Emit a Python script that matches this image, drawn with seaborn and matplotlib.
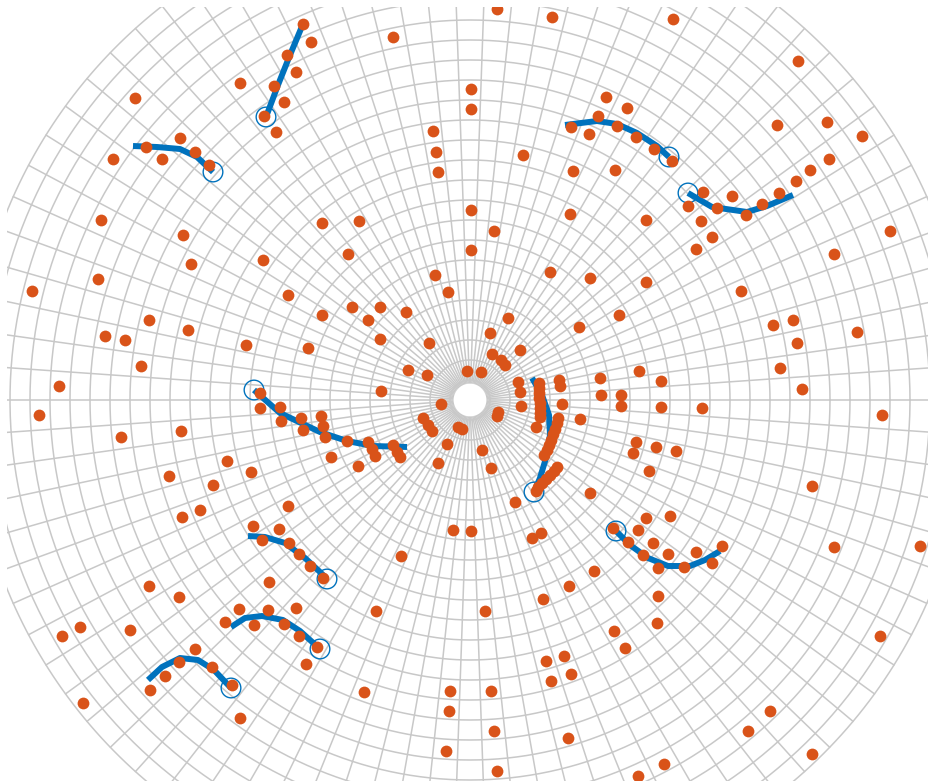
import numpy as np
import pandas as pd
import matplotlib
matplotlib.use("Agg")
import matplotlib.pyplot as plt
import seaborn as sns

sns.set_theme(style="white")

# ---- detections (x, y) in range units, sensor at origin ----
det_x = [27, 82, 203, -167, -77, -159, -183, 328, -174, -230, -196, 1, 136, -335, -186, 157, 1,
         -206, 128, 101, 147, 307, 357, -194, -37, 119, 166, 392, -290, -324, -357, -308, -275,
         -34, 53, 184, 359, -261, -32, 103, 145, 202, 340, 326, 309, 233, 262, 292, 218, 247,
         276, 231, 242, 100, 176, 1, 24, 1, -148, -111, -369, -287, 420, 226, -122, -207, -279,
         -372, -438, -35, 80, 120, 176, -22, 364, 271, -182, -118, -90, -64, -148, -102, 38, 149,
         109, -321, -282, 323, 303, 387, -365, -345, -224, -90, 20, -41, -162, 50, 22, 31, 35,
         327, -329, -62, -43, -3, 11, 48, 89, 90, 130, 169, 191, 310, 332, -411, -89, 50, -29,
         51, 92, 28, 27, -47, -42, -38, -12, -8, 66, 110, 131, 151, 151, 191, 232, 412, -431,
         -349, -289, -23, 12, -32, 21, 166, 186, 163, 179, 206,
         69, 69, 69, 69, 70, 70, 70, 70, 88, 87, 85, 83, 81, 79, 77, 74,
         87, 84, 80, 76, 72, 68, 66,
         -210, -210, -190, -189, -169, -167, -149, -147, -145, -123, -102, -98, -95, -77, -73,
         -70, -139, -112, -243, -219, -301, -257, -270, -288, -182,
         -217, -191, -208, -181, -171, -160, -147, -201, -321, -291, -94, -69,
         -231, -202, -174, -245, -216, -186, -171, -153, -340, -408, -390,
         -275, -291, -305, -320, -258, -238, -164, -230, -387, -106,
         -17, 1, 15, -20, 21, -21, 24, -24, 27, 62, 71, 73, 76, 94, 81, 101, 98, 168, 194,
         120, 45, 99, 124, 144, 155, 188, 187,
         143, 158, 168, 176, 173, 183, 188, 198, 214, 226, 242, 252, 200,
         342, 364, 450, 410, 278, 300, 342]
det_y = [391, 383, 381, 376, 363, 358, 345, 339, 328, 317, 314, 311, 303, 302, 298, 292, 291,
         284, 284, 273, 274, 275, 278, 268, 269, 266, 263, 264, 262, 253, 241, 241, 248,
         248, 245, 251, 241, 235, 228, 229, 230, 239, 230, 219, 207, 208, 204, 196, 194, 192,
         185, 179, 163, 186, 180, 190, 169, 150, 177, 179, 180, 165, 169, 151, 146, 140, 136,
         121, 109, 125, 128, 122, 118, 108, 146, 109, 105, 93, 93, 88, 85, 80, 82, 85,
         73, 80, 70, 80, 75, 68, 64, 60, 55, 61, 67, 57, 52, 50, 46, 40, 35,
         57, 34, 30, 25, 29, 28, 18, 20, 14, 22, 29, 19, 32, 11, 14, 9, 8, -4,
         -6, -4, -12, -16, -18, -25, -31, -27, -29, -27, -19, 5, 5, -6, -7, -8, -15, -15,
         -37, -31, -44, -50, -63, -68, -42, -47, -53, -71, -51,
         17, 12, 7, 2, -3, -8, -13, -17, -18, -23, -29, -34, -40, -45, -50, -55,
         -67, -71, -75, -79, -83, -87, -91,
         7, -8, -7, -21, -18, -30, -16, -26, -37, -41, -42, -49, -56, -45, -52,
         -57, -57, -66, -61, -72, -76, -85, -110, -117, -106,
         -126, -129, -140, -143, -154, -166, -178, -182, -186, -197, -211, -156,
         -209, -210, -208, -222, -225, -224, -236, -247, -230, -236, -227,
         -249, -262, -276, -290, -267, -285, -264, -318, -303, -292,
         -130, -131, -211, -291, -291, -311, -331, -351, -371, -138, -133, -199, -261, -256,
         -281, -274, -338, -376, -364,
         -93, -102, -186, -171, -231, -248, -196, -223,
         -128, -142, -130, -118, -155, -143, -168, -154, -167, -152, -163, -146, -116,
         -86, -147, -146, -236, -331, -311, -354]

# ---- estimated tracks: vertex lists, last column marks the track head ----
track_names = ["T1", "T2", "T3", "T4", "T5", "T6", "T7", "T8", "T9", "T10"]
track_x = [
    [95, 127, 147, 167, 187, 199],
    [218, 242, 277, 297, 323],
    [-337, -313, -290, -273, -257],
    [-167, -180, -192, -204],
    [-216, -190, -150, -123, -97, -63],
    [62, 72, 79, 80, 76, 70, 64],
    [-222, -205, -185, -165, -150, -143],
    [-239, -225, -208, -187, -170, -150],
    [-322, -308, -290, -272, -256, -239],
    [146, 160, 178, 198, 220, 235, 250],
]
track_y = [
    [275, 279, 276, 267, 254, 243],
    [207, 193, 188, 194, 205],
    [254, 253, 251, 243, 228],
    [376, 345, 315, 283],
    [10, -13, -32, -41, -46, -47],
    [22, 5, -15, -35, -58, -78, -92],
    [-136, -137, -143, -158, -172, -179],
    [-227, -218, -216, -220, -231, -249],
    [-280, -267, -258, -260, -270, -288],
    [-131, -145, -158, -166, -166, -160, -151],
]
head_x = [199, 218, -257, -204, -216, 64, -143, -150, -239, 146]
head_y = [243, 207, 228, 283, 10, -92, -179, -249, -288, -131]

BLUE = "#0072BD"
ORANGE = "#D95319"
GRID = "#c8c8c8"

W, H = 929, 781
fig = plt.figure(figsize=(W / 100, H / 100), dpi=100)
ax = fig.add_axes([7 / W, 0, 922 / W, 774 / H])
ax.set_xlim(-463, 459)
ax.set_ylim(-381, 393)
ax.set_axis_off()

# polar range/azimuth grid
ring_step, ring_max, r_min = 20, 500, 17
theta = np.linspace(0, 2 * np.pi, 721)
for r in range(ring_step, ring_max + 1, ring_step):
    ax.plot(r * np.cos(theta), r * np.sin(theta), color=GRID, lw=1.1, zorder=1)
for a in np.deg2rad(np.arange(0, 360, 4)):
    ax.plot([r_min * np.cos(a), ring_max * np.cos(a)],
            [r_min * np.sin(a), ring_max * np.sin(a)], color=GRID, lw=1.1, zorder=1)

rows = []
for name, xs, ys in zip(track_names, track_x, track_y):
    for i, (x, y) in enumerate(zip(xs, ys)):
        rows.append({"track": name, "step": i, "x": x, "y": y})
tracks = pd.DataFrame(rows)

sns.lineplot(data=tracks, x="x", y="y", units="track", estimator=None, sort=False,
             color=BLUE, lw=4.3, ax=ax, zorder=2, legend=False,
             solid_capstyle="butt", solid_joinstyle="round")

heads = pd.DataFrame({"x": head_x, "y": head_y})
sns.scatterplot(data=heads, x="x", y="y", s=200, marker="o", facecolors="none",
                edgecolor=BLUE, linewidth=1.0, ax=ax, zorder=3, legend=False)

dets = pd.DataFrame({"x": det_x, "y": det_y})
sns.scatterplot(data=dets, x="x", y="y", s=72, color=ORANGE, linewidth=0,
                ax=ax, zorder=4, legend=False)

ax.set_xlim(-463, 459)
ax.set_ylim(-381, 393)
ax.set_axis_off()
fig.savefig("out.png", dpi=100)
